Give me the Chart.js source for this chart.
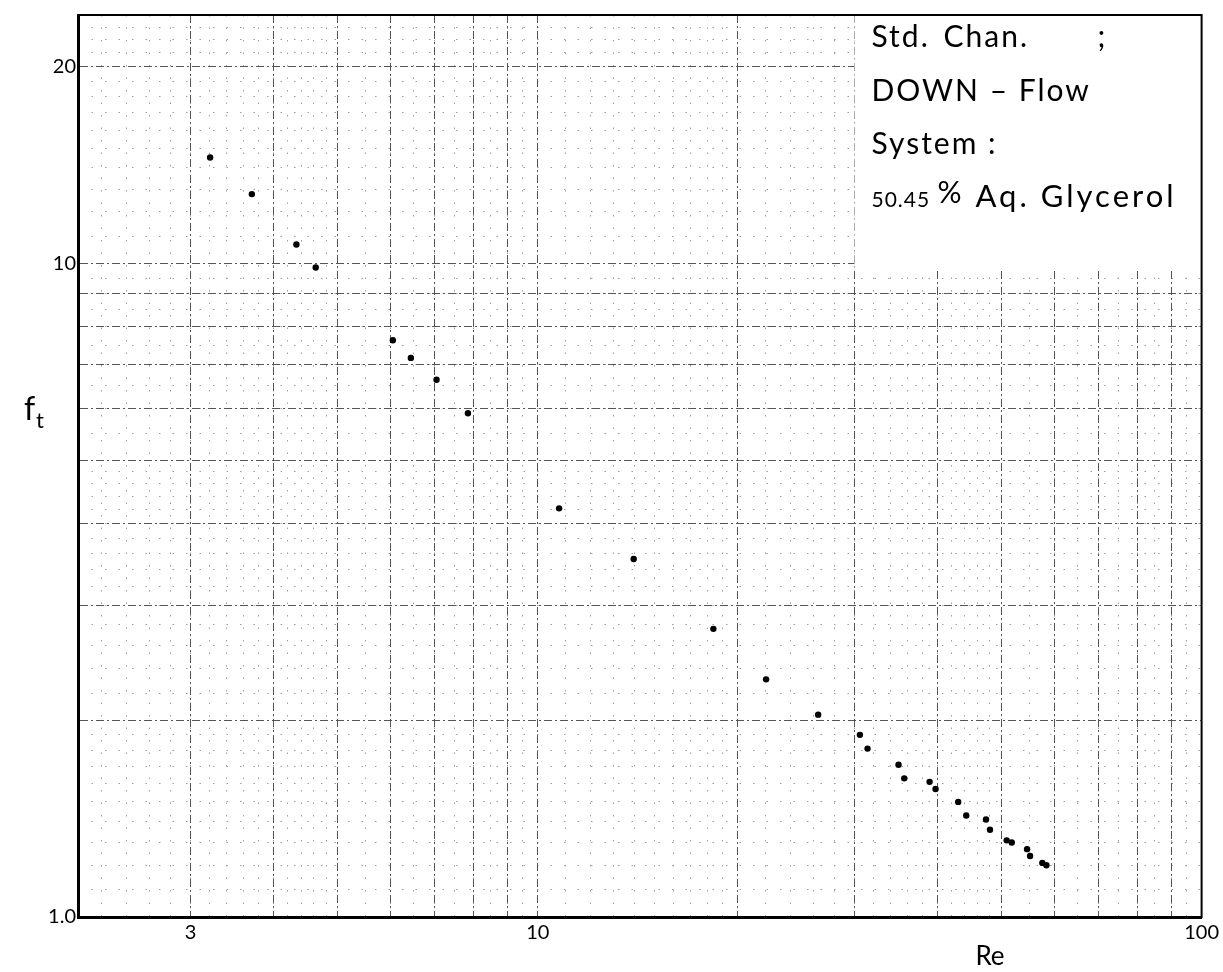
<!DOCTYPE html>
<html>
<head>
<meta charset="utf-8">
<script src="https://cdn.jsdelivr.net/npm/chart.js@4.4.1/dist/chart.umd.min.js"></script>
<style>
html, body { margin: 0; padding: 0; background: #fff; }
#wrap { width: 1223px; height: 972px; }
</style>
</head>
<body>
<div id="wrap"><canvas id="chart"></canvas></div>
<script>
// values (Re, f_t)
const reValues = [3.21, 3.71, 4.33, 4.63, 6.05, 6.44, 7.04, 7.85, 10.77, 13.95, 18.39, 22.08,
    26.45, 30.57, 31.39, 34.95, 35.65, 38.93, 39.74, 42.99, 44.21, 47.34, 48.0, 50.86,
    51.76, 54.59, 55.16, 57.56, 58.37];
const ftValues = [14.53, 12.77, 10.69, 9.86, 7.63, 7.17, 6.64, 5.90, 4.22, 3.53, 2.76, 2.31,
    2.04, 1.90, 1.81, 1.71, 1.63, 1.61, 1.57, 1.50, 1.43, 1.41, 1.36, 1.31,
    1.30, 1.27, 1.24, 1.21, 1.20];

const xTickValues = [3, 10, 100];
const xTickText = ['3', '10', '100'];
const yTickValues = [1, 10, 20];
const yTickText = ['1.0', '10', '20'];

const xMajorLines = [3, 4, 5, 6, 7, 8, 9, 10, 20, 30, 40, 50, 60, 70, 80, 90, 100];
const yMajorLines = [1, 2, 3, 4, 5, 6, 7, 8, 9, 10, 20];

const noteLines = ['Std.', 'Chan.', ';', 'DOWN \u2013 Flow', 'System :', '50.45', '%', 'Aq. Glycerol'];

// graph paper sub-divisions
function steps(from, to, step) {
    const out = [];
    for (let v = from + step; v < to - 1e-9; v += step) out.push(+v.toFixed(3));
    return out;
}
const xMinorLines = [].concat(steps(2, 5, 0.2), steps(5, 10, 0.5), steps(10, 20, 1),
    steps(20, 50, 2), steps(50, 100, 5));
const yMinorLines = [].concat(steps(1, 2, 0.1), steps(2, 5, 0.2), steps(5, 10, 0.5),
    steps(10, 20, 1), steps(20, 24, 1));

function fixTicks(values) {
    return axis => { axis.ticks = values.map(v => ({ value: v })); };
}

const tickFont = { family: 'Lato', size: 20 };

const paperPlugin = {
    id: 'paper',
    beforeDatasetsDraw(chart) {
        // pasted label covers the paper in the upper right
        const { ctx, chartArea, scales } = chart;
        const left = scales.x.getPixelForValue(30);
        const bottom = scales.y.getPixelForValue(9.8);
        ctx.save();
        ctx.fillStyle = '#fff';
        ctx.fillRect(left, chartArea.top, chartArea.right - left, bottom - chartArea.top);
        ctx.restore();
    },
    afterDraw(chart) {
        const { ctx, chartArea, scales } = chart;
        ctx.save();
        ctx.strokeStyle = '#000';
        ctx.lineWidth = 2;
        ctx.strokeRect(chartArea.left, chartArea.top, chartArea.right - chartArea.left, chartArea.bottom - chartArea.top);

        ctx.fillStyle = '#000';
        ctx.textBaseline = 'alphabetic';
        ctx.textAlign = 'left';
        const tx = scales.x.getPixelForValue(30) + 17;
        const top = chartArea.top;
        ctx.letterSpacing = '2px';
        ctx.font = '30px Lato';
        ctx.fillText(noteLines[0], tx, top + 32);
        ctx.fillText(noteLines[1], tx + 72, top + 32);
        ctx.fillText(noteLines[2], tx + 226, top + 32);
        ctx.fillText(noteLines[3], tx, top + 86);
        ctx.fillText(noteLines[4], tx, top + 139);
        ctx.letterSpacing = '1px';
        ctx.font = '21px Lato';
        ctx.fillText(noteLines[5], tx, top + 192);
        ctx.font = '30px Lato';
        ctx.fillText(noteLines[6], tx + 66, top + 188);
        ctx.letterSpacing = '3px';
        ctx.font = '31px Lato';
        ctx.fillText(noteLines[7], tx + 104, top + 192);
        ctx.letterSpacing = '0px';

        // axis titles
        ctx.font = '32px Lato';
        ctx.fillText('f', 24, 420);
        ctx.font = '22px Lato';
        ctx.fillText('t', 36, 428);
        ctx.textAlign = 'center';
        ctx.font = '26px Lato';
        ctx.fillText('Re', scales.x.getPixelForValue(48), 965);
        ctx.restore();
    }
};

new Chart(document.getElementById('chart'), {
    type: 'scatter',
    data: {
        datasets: [{
            data: reValues.map((x, i) => ({ x, y: ftValues[i] })),
            backgroundColor: '#000',
            borderWidth: 0,
            pointRadius: 3.2
        }]
    },
    options: {
        responsive: true,
        maintainAspectRatio: false,
        animation: false,
        layout: { padding: { top: 15, right: 20, left: 0, bottom: 0 } },
        plugins: { legend: { display: false }, tooltip: { enabled: false } },
        scales: {
            xMinor: {
                type: 'logarithmic', position: 'bottom', min: 2.03, max: 100,
                afterBuildTicks: fixTicks(xMinorLines),
                afterFit: axis => { axis.height = 0; },
                ticks: { display: false },
                grid: { color: '#a0a0a0', lineWidth: 1, drawTicks: false },
                border: { display: false, dash: [1.5, 11] }
            },
            yMinor: {
                type: 'logarithmic', position: 'left', min: 1, max: 24,
                afterBuildTicks: fixTicks(yMinorLines),
                afterFit: axis => { axis.width = 0; },
                ticks: { display: false },
                grid: { color: '#a0a0a0', lineWidth: 1, drawTicks: false },
                border: { display: false, dash: [1.5, 12] }
            },
            x: {
                type: 'logarithmic', position: 'bottom', min: 2.03, max: 100,
                afterBuildTicks: fixTicks(xMajorLines),
                afterFit: axis => { axis.height = 55; },
                ticks: {
                    autoSkip: false, maxRotation: 0, padding: 4, color: '#000', font: tickFont,
                    callback: v => {
                        const i = xTickValues.indexOf(v);
                        return i >= 0 ? xTickText[i] : '';
                    }
                },
                grid: { color: '#555', lineWidth: 1, drawTicks: false },
                border: { display: true, color: '#000', width: 3, dash: [8, 3, 2, 3] }
            },
            y: {
                type: 'logarithmic', position: 'left', min: 1, max: 24,
                afterBuildTicks: fixTicks(yMajorLines),
                afterFit: axis => { axis.width = 78; },
                ticks: {
                    autoSkip: false, padding: 2, color: '#000', font: tickFont,
                    callback: v => {
                        const i = yTickValues.indexOf(v);
                        return i >= 0 ? yTickText[i] : '';
                    }
                },
                grid: { color: '#555', lineWidth: 1, drawTicks: false },
                border: { display: true, color: '#000', width: 3, dash: [8, 3, 2, 3] }
            }
        }
    },
    plugins: [paperPlugin]
});
</script>
</body>
</html>
